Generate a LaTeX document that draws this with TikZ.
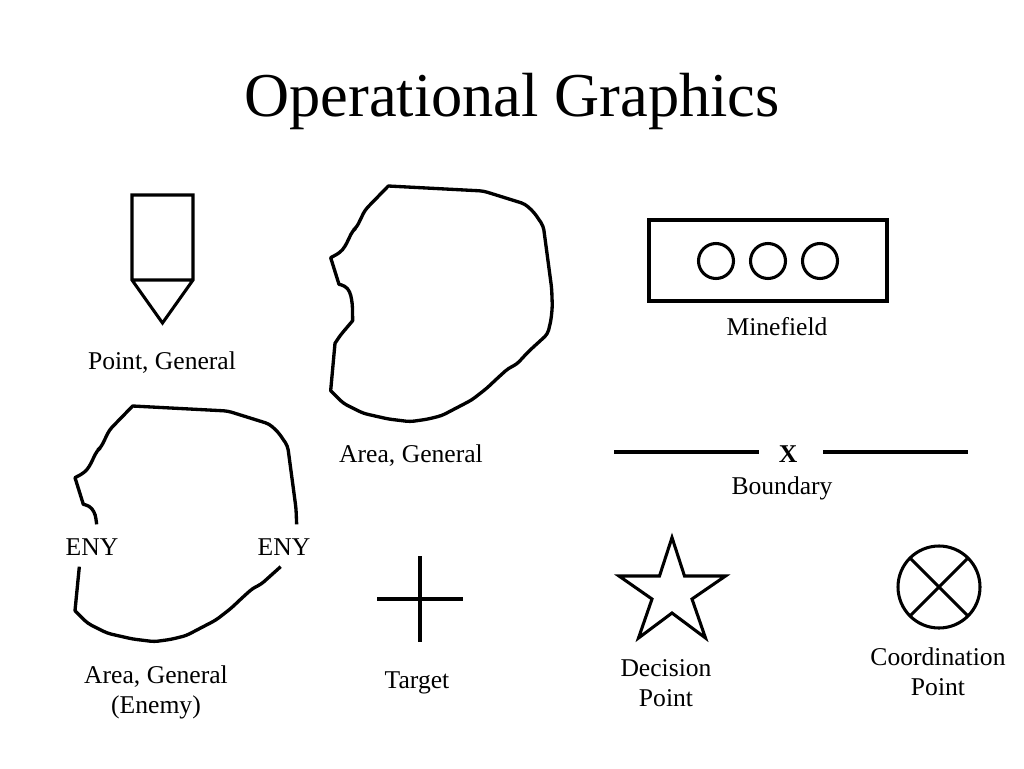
\documentclass[tikz,border=0pt]{standalone}
\usepackage{fontspec}
\setmainfont{Liberation Serif}
\tikzset{
  shapeline/.style={draw=black,line width=2.3pt,line join=miter,fill=none},
  blob/.style={draw=black,line width=2.5pt,line join=round,fill=none,rounded corners=3pt},
  lbl/.style={font=\fontsize{19.2}{22.5}\selectfont,align=center,text=black,inner sep=0pt,anchor=center},
  titletext/.style={font=\fontsize{46.8}{54}\selectfont,text=black,inner sep=0pt,anchor=center}
}
\begin{document}
\begin{tikzpicture}[x=0.75pt,y=-0.75pt]
\useasboundingbox (0,0) rectangle (1024,768);
\node[titletext] (title) at (512,101) {Operational Graphics};
% point
\draw[shapeline] (132,195) -- (193,195) -- (193,280) -- (162.5,323) -- (132,280) -- cycle (132,280) -- (193,280);
\node[lbl] (pointlbl) at (162,363) {Point, General};
% area general
\begin{scope}[shift={(310,170)},x=0.25pt,y=-0.25pt]
\draw[blob] (235,48) -- (520,63) -- (645,102) -- (672,127) -- (700,168) -- (715,280) -- (725,355) -- (727,410) -- (723,450) -- (713,492) -- (655,545) -- (620,583) -- (595,595) -- (565,622) -- (530,655) -- (485,690) -- (395,737) -- (350,748) -- (300,755) -- (235,747) -- (160,730) -- (100,700) [sharp corners] -- (62,662) -- (75,520) [rounded corners=3pt] -- (90,497) [sharp corners] -- (128,452) [rounded corners=3pt] -- (127,400) -- (120,365) -- (105,347) [sharp corners] -- (87,343) -- (62,263) [rounded corners=3pt] -- (90,248) -- (105,230) -- (128,182) -- (140,172) -- (165,120) [sharp corners] -- (235,48) -- cycle;
\end{scope}
\node[lbl] (arealbl) at (411,456) {Area, General};
% enemy area
\begin{scope}[shift={(54.33,390)},x=0.25pt,y=-0.25pt]
\draw[blob] (127,403) -- (125,385) -- (120,365) -- (105,347) [sharp corners] -- (87,343) -- (62,263) [rounded corners=3pt] -- (90,248) -- (105,230) -- (128,182) -- (140,172) -- (165,120) [sharp corners] -- (235,48) [rounded corners=3pt] -- (520,63) -- (645,102) -- (672,127) -- (700,168) -- (715,280) -- (725,355) -- (727,403);
\draw[blob] (679,530) -- (620,583) -- (595,595) -- (565,622) -- (530,655) -- (485,690) -- (395,737) -- (350,748) -- (300,755) -- (235,747) -- (160,730) -- (100,700) [sharp corners] -- (62,662) -- (75,530);
\end{scope}
\node[lbl] (enyl) at (92,547) {ENY};
\node[lbl] (enyr) at (284,547) {ENY};
\node[lbl] (enemylbl) at (156,692) {Area, General\\(Enemy)};
% minefield
\draw[shapeline] (649,220) rectangle (887,301);
\draw[shapeline] (716,261) circle (17.5);
\draw[shapeline] (768,261) circle (17.5);
\draw[shapeline] (820,261) circle (17.5);
\node[lbl] (minelbl) at (777,327) {Minefield};
% boundary
\node[lbl,font=\fontsize{19.2}{22.5}\selectfont\bfseries] (xmark) at (788,454) {X};
\coordinate (bl1) at (614,452);
\coordinate (bl2) at (759,452);
\coordinate (br1) at (823,452);
\coordinate (br2) at (968,452);
\draw[shapeline] (bl1) -- (bl2);
\draw[shapeline] (br1) -- (br2);
\node[lbl] (boundlbl) at (782,488) {Boundary};
% target
\coordinate (tt) at (420,556);
\coordinate (tb) at (420,642);
\coordinate (tl) at (377,599);
\coordinate (tr) at (463,599);
\draw[shapeline] (tt) -- (tb);
\draw[shapeline] (tl) -- (tr);
\node[lbl] (targetlbl) at (417,683) {Target};
% star
\draw[shapeline] (672,537.5) -- (684.5,576) -- (725.5,576) -- (692,599) -- (705.5,638) -- (672,613) -- (638.5,638) -- (652,599) -- (619,576) -- (659.5,576) -- cycle;
\node[lbl] (declbl) at (666,683) {Decision\\Point};
% coordination
\draw[shapeline] (939,587) circle (41);
\draw[shapeline] (910,558) -- (968,616);
\draw[shapeline] (968,558) -- (910,616);
\node[lbl] (coordlbl) at (938,672) {Coordination\\Point};
\end{tikzpicture}
\end{document}
